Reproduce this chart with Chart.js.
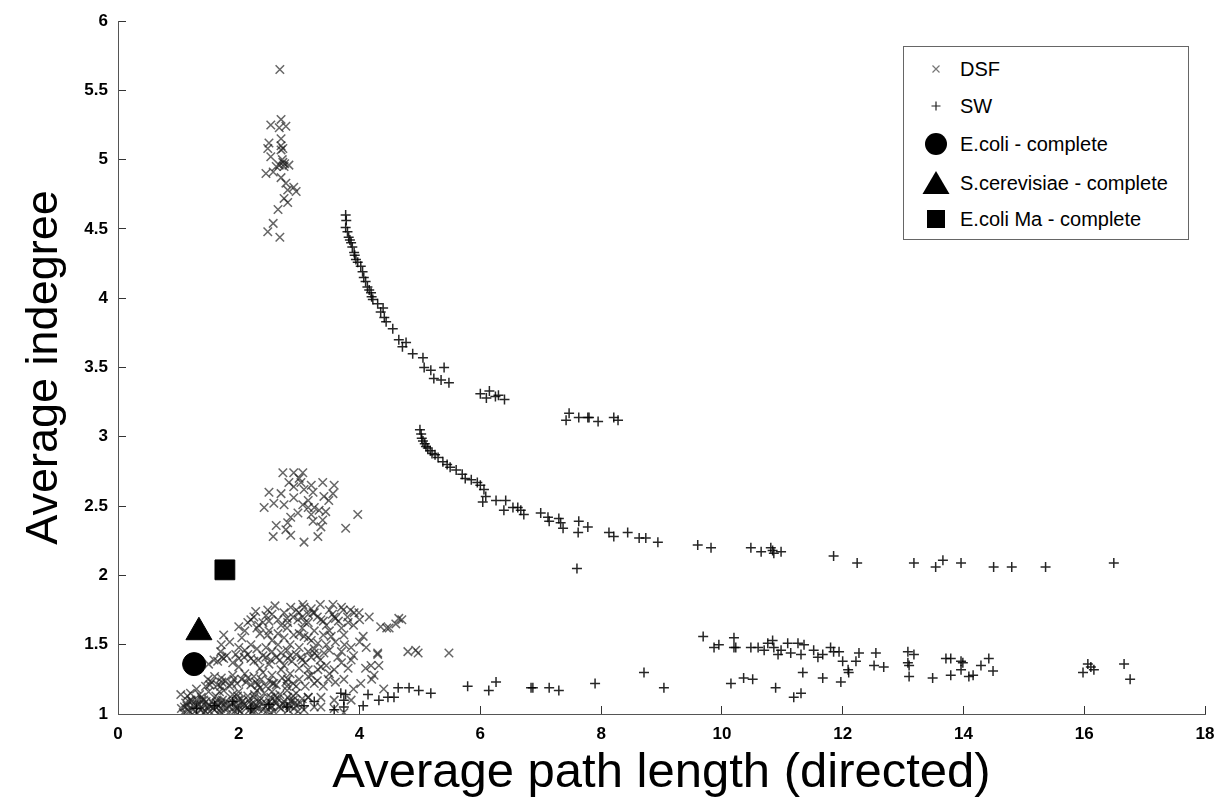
<!DOCTYPE html>
<html>
<head>
<meta charset="utf-8">
<script src="https://cdn.jsdelivr.net/npm/chart.js@4.4.1/dist/chart.umd.min.js"></script>
<style>
    body { margin: 0; background: #fff; }
    #wrap { position: relative; width: 1221px; height: 808px; }
    .legend { position: absolute; left: 903px; top: 46px; width: 284px; height: 192px; border: 1px solid #666; background: #fff;
        font-family: "Liberation Sans", Arial, sans-serif; font-size: 20px; color: #000; }
    .legend .row { position: absolute; left: 0; width: 284px; height: 30px; }
    .legend svg { position: absolute; left: 17px; top: 0; }
    .legend span { position: absolute; left: 56px; top: 0; line-height: 30px; white-space: nowrap; }
</style>
</head>
<body>
<div id="wrap">
    <canvas id="scatterChart" width="1221" height="808"></canvas>
    <div class="legend">
        <div class="row" style="top:7px">
            <svg width="30" height="30"><path d="M11.5 11.5 L18.5 18.5 M11.5 18.5 L18.5 11.5" stroke="#777" stroke-width="1.2"/></svg>
            <span>DSF</span>
        </div>
        <div class="row" style="top:44px">
            <svg width="30" height="30"><path d="M10.5 15 L19.5 15 M15 10.5 L15 19.5" stroke="#222" stroke-width="1.2"/></svg>
            <span>SW</span>
        </div>
        <div class="row" style="top:82px">
            <svg width="30" height="30"><circle cx="15" cy="15" r="11" fill="#000"/></svg>
            <span>E.coli - complete</span>
        </div>
        <div class="row" style="top:121px">
            <svg width="30" height="30"><path d="M15 3 L28.5 26 L1.5 26 Z" fill="#000"/></svg>
            <span>S.cerevisiae - complete</span>
        </div>
        <div class="row" style="top:157px">
            <svg width="30" height="30"><rect x="6" y="6" width="18" height="18" fill="#000"/></svg>
            <span>E.coli Ma - complete</span>
        </div>
    </div>
</div>
<script>
// 축 눈금
const xTicks = [0, 2, 4, 6, 8, 10, 12, 14, 16, 18];
const yTicks = [1, 1.5, 2, 2.5, 3, 3.5, 4, 4.5, 5, 5.5, 6];

// DSF (x 표시)
const dsfPoints = [
    // 위쪽 무리
    [2.68,5.65],[2.53,5.25],[2.70,5.29],[2.78,5.24],[2.67,5.23],[2.50,5.12],[2.70,5.15],[2.48,5.08],[2.70,5.07],[2.73,5.08],
    [2.53,5.02],[2.67,4.96],[2.75,4.95],[2.83,4.96],[2.45,4.90],[2.57,4.91],[2.70,4.87],[2.78,4.83],[2.91,4.80],[2.95,4.77],
    [2.81,4.78],[2.75,4.72],[2.81,4.69],[2.65,4.64],[2.57,4.54],[2.48,4.48],[2.68,4.44],[2.62,4.95],[2.73,4.98],[2.72,5.00],
    [2.76,4.97],[2.70,5.10],
    // 가운데 무리
    [2.73,2.74],[2.91,2.74],[3.06,2.74],[3.00,2.70],[2.50,2.60],[2.42,2.49],[2.58,2.52],[2.70,2.59],[2.83,2.67],[2.91,2.64],
    [3.03,2.67],[3.08,2.62],[3.20,2.65],[3.23,2.60],[3.39,2.67],[3.58,2.65],[3.56,2.59],[3.41,2.57],[3.49,2.54],[3.15,2.54],
    [3.15,2.49],[3.06,2.51],[3.25,2.49],[3.33,2.47],[3.44,2.46],[3.39,2.40],[3.23,2.39],[2.86,2.42],[2.81,2.38],[2.62,2.36],
    [2.78,2.33],[2.86,2.29],[2.57,2.28],[3.08,2.24],[3.31,2.28],[3.36,2.35],[3.77,2.34],[3.97,2.44],[2.98,2.45],[2.91,2.56],
    [2.75,2.51],[3.20,2.44],
    // 아래쪽 무리
    [2.28,1.74],[2.48,1.75],[2.86,1.77],[3.06,1.79],[3.23,1.73],[2.15,1.66],[2.33,1.64],[2.65,1.68],[2.81,1.66],[2.98,1.68],
    [1.75,1.57],[1.71,1.50],[2.00,1.48],[2.45,1.48],[2.65,1.50],[1.59,1.39],[1.75,1.40],[2.09,1.41],[2.32,1.39],[2.53,1.39],
    [2.81,1.40],[3.03,1.41],[3.25,1.44],[1.49,1.25],[1.71,1.26],[1.92,1.25],[2.15,1.26],[2.37,1.25],[2.58,1.22],[2.81,1.25],
    [3.15,1.27],[3.31,1.32],[1.04,1.14],[1.21,1.10],[1.42,1.10],[1.71,1.08],[1.99,1.10],[2.25,1.12],[2.53,1.12],[2.81,1.12],
    [3.15,1.12],[1.16,1.03],[1.42,1.01],[1.71,1.01],[1.99,1.03],[2.25,1.03],[2.53,1.01],[2.91,1.04],[3.25,1.05],[2.48,1.57],
    [2.91,1.57],[3.15,1.55],
    [3.08,1.77],[3.25,1.73],[3.56,1.79],[3.73,1.75],[3.91,1.73],[3.99,1.73],[4.16,1.70],[4.35,1.63],[4.49,1.62],[4.65,1.69],
    [3.15,1.66],[3.36,1.68],[3.58,1.70],[3.81,1.66],[4.06,1.56],[4.11,1.48],[4.30,1.44],[4.19,1.35],[4.32,1.35],[4.24,1.28],
    [4.02,1.22],[4.93,1.46],[4.97,1.44],[5.48,1.44],[3.08,1.56],[3.31,1.51],[3.53,1.56],[3.74,1.57],[3.86,1.48],[3.20,1.41],
    [3.41,1.44],[3.64,1.41],[3.86,1.39],[3.81,1.33],[3.15,1.32],[3.36,1.34],[3.58,1.32],[3.25,1.22],[3.48,1.25],[3.74,1.25],
    [3.15,1.12],[3.36,1.12],[3.58,1.10],[3.86,1.10],[3.08,1.03],[3.36,1.05],[3.58,1.04],[3.74,1.01],
    [1.05,1.04],[1.12,1.08],[1.18,1.02],[1.25,1.06],[1.30,1.10],[1.36,1.03],[1.42,1.07],[1.48,1.05],[1.55,1.09],[1.60,1.03],
    [1.66,1.06],[1.73,1.10],[1.80,1.04],[1.86,1.07],[1.93,1.02],[2.00,1.06],[2.06,1.09],[2.12,1.04],[2.20,1.07],[2.27,1.05],
    [2.33,1.09],[2.40,1.03],[2.47,1.07],[2.55,1.05],[2.62,1.08],[2.70,1.04],[2.78,1.06],[2.86,1.09],[2.95,1.06],[3.02,1.08],
    [1.15,1.13],[1.38,1.12],[1.62,1.13],[1.90,1.14],[2.15,1.13],[2.42,1.15],[2.68,1.14],[2.90,1.13],
    [1.08,1.01],[1.14,1.06],[1.22,1.09],[1.28,1.02],[1.34,1.07],[1.40,1.04],[1.46,1.09],[1.52,1.02],[1.58,1.07],[1.64,1.10],
    [1.70,1.04],[1.76,1.07],[1.83,1.01],[1.89,1.11],[1.95,1.05],[2.02,1.02],[2.09,1.07],[2.16,1.10],[2.23,1.02],[2.30,1.06],
    [2.37,1.11],[2.44,1.05],[2.51,1.09],[2.58,1.02],[2.65,1.11],[2.73,1.07],[2.82,1.03],[2.90,1.10],[2.98,1.02],[3.05,1.11],
    [1.10,1.05],[1.17,1.09],[1.24,1.03],[1.31,1.07],[1.39,1.10],[1.45,1.02],[1.51,1.06],[1.57,1.04],[1.63,1.08],[1.69,1.02],
    [1.78,1.09],[1.84,1.05],[1.91,1.08],[1.98,1.04],[2.04,1.11],[2.11,1.06],[2.18,1.03],[2.25,1.08],[2.32,1.04],[2.39,1.08],
    [2.46,1.02],[2.53,1.06],[2.60,1.10],[2.67,1.05],[2.75,1.09],[2.84,1.06],[2.93,1.08],[1.35,1.14],[1.68,1.16],[1.98,1.13],
    [2.26,1.14],[2.60,1.13],[2.95,1.15],
    [1.20,1.15],[1.50,1.16],[1.75,1.17],[2.00,1.16],[2.30,1.17],[2.55,1.16],[2.80,1.17],
    [1.45,1.20],[1.55,1.23],[1.65,1.21],[1.78,1.24],[1.85,1.20],[1.97,1.22],[2.05,1.25],[2.20,1.21],[2.28,1.23],[2.45,1.20],
    [2.50,1.24],[2.62,1.21],[2.72,1.26],[2.90,1.22],[3.00,1.25],[3.10,1.20],[3.40,1.20],[3.60,1.23],[3.90,1.18],[1.30,1.18],
    [2.10,1.29],[2.40,1.30],[2.70,1.32],[3.50,1.29],
    [1.60,1.27],[1.90,1.28],[2.25,1.27],[2.55,1.28],[2.85,1.29],[3.20,1.28],[1.70,1.20],[2.35,1.19],[2.80,1.20],
    [1.52,1.21],[1.72,1.23],[1.88,1.22],[2.12,1.23],[2.32,1.21],[2.56,1.22],[2.78,1.23],[2.95,1.20],[3.30,1.24],
    [1.50,1.36],[1.65,1.38],[1.80,1.42],[1.90,1.37],[2.00,1.40],[2.15,1.43],[2.25,1.38],[2.40,1.42],[2.50,1.36],[2.62,1.41],
    [2.70,1.44],[2.88,1.38],[2.95,1.43],[3.10,1.37],[3.15,1.45],[3.35,1.39],[3.50,1.46],[3.70,1.37],[3.90,1.42],
    [1.70,1.45],[2.10,1.46],[2.30,1.47],[2.55,1.45],[2.80,1.46],[3.00,1.48],[3.25,1.47],[3.45,1.50],[2.00,1.34],[2.35,1.33],
    [2.75,1.35],[3.00,1.33],[3.45,1.35],
    [1.72,1.41],[1.95,1.43],[2.20,1.40],[2.45,1.41],[2.68,1.39],[2.85,1.42],[3.05,1.39],[3.30,1.42],
    [1.85,1.52],[2.05,1.55],[2.20,1.50],[2.35,1.58],[2.55,1.53],[2.75,1.55],[2.85,1.50],[3.00,1.58],[3.20,1.53],[3.40,1.57],
    [3.60,1.52],[3.75,1.50],[4.00,1.52],
    [2.00,1.63],[2.25,1.70],[2.40,1.66],[2.55,1.72],[2.70,1.64],[2.90,1.70],[3.00,1.73],[3.10,1.66],[3.30,1.70],[3.45,1.64],
    [3.55,1.72],[3.65,1.67],[3.80,1.70],[3.90,1.64],[4.00,1.68],[2.60,1.78],[3.35,1.79],[3.70,1.77],
    [2.10,1.60],[2.30,1.62],[2.50,1.60],[2.65,1.58],[2.80,1.62],[3.05,1.62],[3.25,1.60],[3.50,1.60],[3.70,1.62],[2.45,1.71],
    [2.75,1.73],[3.20,1.76],[3.50,1.75],[3.85,1.75],
    [2.20,1.68],[2.50,1.67],[2.80,1.69],[3.05,1.70],[3.40,1.67],[3.60,1.69],[2.95,1.75],[3.15,1.72],
    [4.60,1.65],[4.45,1.62],[4.70,1.68],[4.80,1.45],[4.30,1.43],[4.10,1.33],[4.20,1.25],[4.40,1.18],[3.70,1.45]
];

// SW (+ 표시)
const swPoints = [
    // 위쪽 곡선
    [3.77,4.60],[3.77,4.51],[3.82,4.44],[3.86,4.40],[3.91,4.33],[3.94,4.28],[4.02,4.23],[4.07,4.15],[4.13,4.08],[4.19,4.04],
    [4.22,3.99],[4.39,3.93],[4.41,3.86],[4.44,3.83],[4.55,3.78],[4.65,3.70],[4.77,3.68],[4.71,3.65],[4.88,3.60],[5.05,3.57],
    [5.07,3.50],[5.18,3.48],[5.40,3.50],[5.23,3.42],[5.35,3.41],[5.48,3.39],
    [3.78,4.56],[3.80,4.48],[3.84,4.42],[3.88,4.37],[3.92,4.31],[3.97,4.26],[4.05,4.19],[4.10,4.12],[4.16,4.06],[4.20,4.01],
    [4.30,3.96],[4.35,3.90],
    [6.00,3.31],[6.10,3.28],[6.15,3.33],[6.25,3.29],[6.30,3.30],[6.40,3.27],
    [7.42,3.12],[7.47,3.17],[7.63,3.14],[7.78,3.14],[7.80,3.14],[7.95,3.11],[8.21,3.14],[8.28,3.12],
    // 아래쪽 곡선
    [5.00,3.05],[5.02,3.02],[5.03,2.99],[5.05,2.97],[5.08,2.95],[5.10,2.93],[5.13,2.92],[5.17,2.90],[5.20,2.88],[5.25,2.87],
    [5.30,2.85],[5.38,2.82],[5.45,2.80],[5.50,2.78],[5.60,2.76],[5.70,2.73],[5.75,2.70],[5.85,2.69],[5.95,2.67],[6.00,2.65],
    [6.06,2.62],[6.09,2.57],[6.04,2.53],[6.26,2.54],[6.42,2.54],[6.39,2.47],[6.54,2.49],[6.62,2.49],[6.67,2.47],[6.72,2.44],
    [7.00,2.45],[7.12,2.42],[7.14,2.39],[7.30,2.41],[7.33,2.38],[7.37,2.34],[7.63,2.39],[7.62,2.31],[7.78,2.35],[8.13,2.31],
    [8.21,2.28],[8.44,2.31],[8.63,2.27],[8.74,2.27],[8.94,2.24],[9.60,2.22],[9.82,2.20],[10.48,2.20],[10.81,2.20],[7.60,2.05],
    [10.65,2.17],[10.84,2.18],[10.86,2.16],[10.98,2.17],[11.85,2.14],[12.24,2.09],[13.18,2.09],[13.54,2.06],[13.66,2.11],
    [13.96,2.09],[14.50,2.06],[14.80,2.06],[15.36,2.06],[16.49,2.09],
    // 바닥 근처
    [3.58,1.03],[3.74,1.05],[4.06,1.06],[4.14,1.14],[4.32,1.10],[4.47,1.12],[4.57,1.12],[4.64,1.19],[4.82,1.19],[4.98,1.17],
    [5.18,1.15],[5.79,1.20],[6.14,1.17],[6.26,1.23],[6.84,1.19],[6.87,1.19],[7.14,1.19],[7.30,1.17],[3.69,1.15],[3.77,1.14],
    [3.74,1.10],[3.25,1.09],[3.08,1.06],[2.20,1.04],[2.50,1.07],[2.80,1.05],[1.60,1.06],[1.90,1.09],[1.30,1.04],
    [7.90,1.22],[8.71,1.30],[9.04,1.19],
    [9.69,1.56],[9.87,1.48],[9.95,1.50],[10.20,1.55],[10.20,1.48],[10.23,1.48],[10.15,1.22],[10.36,1.26],[10.51,1.25],[10.48,1.48],
    [10.60,1.48],[10.70,1.46],[10.76,1.51],[10.84,1.53],[10.86,1.48],[10.93,1.43],[10.98,1.46],[11.09,1.51],[11.14,1.44],[11.26,1.51],
    [11.31,1.43],[11.36,1.50],[11.52,1.46],[11.59,1.41],[11.67,1.43],[11.80,1.48],[11.85,1.45],[11.94,1.45],[11.34,1.30],[11.67,1.26],
    [11.97,1.23],[12.00,1.38],[12.09,1.32],[12.10,1.30],[12.22,1.38],[12.27,1.44],[12.55,1.44],[12.52,1.35],[12.68,1.34],[10.89,1.19],
    [11.19,1.12],[11.31,1.15],
    [13.08,1.45],[13.18,1.43],[13.08,1.37],[13.10,1.35],[13.10,1.27],[13.49,1.26],[13.71,1.40],[13.79,1.40],[13.96,1.38],[13.99,1.37],
    [13.79,1.28],[13.96,1.32],[14.09,1.27],[14.16,1.28],[14.29,1.35],[14.42,1.40],[14.49,1.31],[15.98,1.30],[16.06,1.36],[16.11,1.34],
    [16.16,1.32],[16.66,1.36],[16.76,1.25]
];

// 완전 네트워크
const ecoliComplete = [[1.26, 1.36]];
const scerevisiaeComplete = [[1.34, 1.59]];
const ecoliMaComplete = [[1.77, 2.04]];

const toXY = (arr) => arr.map(p => ({ x: p[0], y: p[1] }));

const fontFamily = '"Liberation Sans", Arial, sans-serif';
const tickFont = { family: fontFamily, size: 17, weight: 'bold' };

const ctx = document.getElementById('scatterChart').getContext('2d');
new Chart(ctx, {
    type: 'scatter',
    data: {
        datasets: [
            {
                label: 'E.coli - complete',
                data: toXY(ecoliComplete),
                pointStyle: 'circle',
                pointRadius: 11.5,
                backgroundColor: '#000',
                borderColor: '#000',
                order: 0,
            },
            {
                label: 'S.cerevisiae - complete',
                data: toXY(scerevisiaeComplete),
                pointStyle: 'triangle',
                pointRadius: 15,
                backgroundColor: '#000',
                borderColor: '#000',
                order: 0,
            },
            {
                label: 'E.coli Ma - complete',
                data: toXY(ecoliMaComplete),
                pointStyle: 'rect',
                pointRadius: 14,
                backgroundColor: '#000',
                borderColor: '#000',
                order: 0,
            },
            {
                label: 'SW',
                data: toXY(swPoints),
                pointStyle: 'cross',
                pointRadius: 5,
                borderColor: 'rgba(0,0,0,0.85)',
                borderWidth: 1.5,
                order: 1,
            },
            {
                label: 'DSF',
                data: toXY(dsfPoints),
                pointStyle: 'crossRot',
                pointRadius: 6,
                borderColor: 'rgba(30,30,30,0.68)',
                borderWidth: 1.5,
                order: 2,
            },
        ],
    },
    options: {
        responsive: false,
        animation: false,
        layout: { padding: { top: 21, right: 16, left: 0, bottom: 0 } },
        plugins: {
            legend: { display: false },
            tooltip: { enabled: false },
        },
        scales: {
            x: {
                type: 'linear',
                min: 0,
                max: 18,
                afterBuildTicks: s => { s.ticks = xTicks.map(v => ({ value: v })); },
                afterFit: s => { s.height = 94; s.paddingLeft = 0; s.paddingRight = 0; },
                ticks: { font: tickFont, color: '#000', padding: 18, callback: v => String(v) },
                grid: { drawOnChartArea: false, tickLength: -8, color: '#333' },
                border: { color: '#555', width: 1 },
                title: {
                    display: true,
                    text: 'Average path length (directed)',
                    color: '#000',
                    font: { family: fontFamily, size: 49 },
                    padding: { top: 0, bottom: 5 },
                },
            },
            y: {
                type: 'linear',
                min: 1,
                max: 6,
                afterBuildTicks: s => { s.ticks = yTicks.map(v => ({ value: v })); },
                afterFit: s => { s.width = 118; s.paddingTop = 0; s.paddingBottom = 0; },
                ticks: { font: tickFont, color: '#000', padding: 18, callback: v => String(v) },
                grid: { drawOnChartArea: false, tickLength: -8, color: '#333' },
                border: { color: '#555', width: 1 },
                title: {
                    display: true,
                    text: 'Average indegree',
                    color: '#000',
                    font: { family: fontFamily, size: 45 },
                    padding: { top: 18, bottom: 0 },
                },
            },
        },
    },
});
</script>
</body>
</html>
